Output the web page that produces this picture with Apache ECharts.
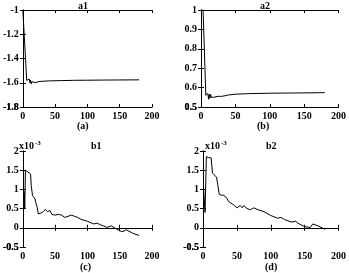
<!DOCTYPE html>
<html>
<head>
<meta charset="utf-8">
<script src="https://cdn.jsdelivr.net/npm/echarts@6/dist/echarts.min.js"></script>
<style>
  html, body { margin: 0; padding: 0; background: #fff; }
  #main { width: 349px; height: 273px; }
</style>
</head>
<body>
<div id="main"></div>
<script>
// curve data
var a1X = [0, 2, 3, 6, 8, 10, 11, 12, 13, 14, 15, 17, 19, 21, 25, 30, 40, 60, 80, 100, 120, 150, 180];
var a1Y = [-1, -1, -1, -1.58, -1.59, -1.57, -1.6, -1.58, -1.61, -1.59, -1.6, -1.59, -1.6, -1.592, -1.59, -1.588, -1.585, -1.582, -1.58, -1.579, -1.578, -1.577, -1.576];

var a2X = [0, 3, 4, 7, 9, 10, 11, 12, 13, 14, 15, 16, 18, 20, 25, 30, 35, 40, 50, 70, 100, 130, 160, 180];
var a2Y = [1, 1, 0.99, 0.56, 0.55, 0.57, 0.54, 0.565, 0.545, 0.565, 0.55, 0.555, 0.55, 0.556, 0.555, 0.555, 0.558, 0.562, 0.566, 0.569, 0.571, 0.572, 0.573, 0.574];

// b1, b2 in units of 1e-3
var b1X = [1, 2, 3, 4, 6, 8, 10, 12, 13, 15, 17, 19, 20, 22, 24, 27, 30, 32, 35, 38, 42, 45, 50, 55, 58, 60, 65, 70, 75, 80, 85, 90, 100, 110, 112, 115, 120, 125, 130, 137, 140, 150, 155, 160, 162, 170, 180];
var b1Y = [0.4, 0.95, 0.5, 1.5, 1.5, 1.45, 1.5, 1.4, 1.1, 0.84, 0.85, 0.75, 0.66, 0.55, 0.36, 0.38, 0.4, 0.45, 0.48, 0.42, 0.45, 0.35, 0.33, 0.35, 0.38, 0.33, 0.27, 0.3, 0.33, 0.3, 0.27, 0.22, 0.17, 0.1, 0.15, 0.12, 0.08, 0.05, 0.01, 0.05, 0.0, -0.08, -0.1, -0.05, -0.1, -0.14, -0.2];

var b2X = [1, 3, 5, 8, 12, 13, 14, 16, 20, 22, 24, 27, 30, 32, 35, 38, 40, 45, 50, 55, 58, 60, 65, 70, 75, 80, 90, 100, 110, 112, 115, 120, 130, 137, 140, 150, 155, 158, 162, 170, 180];
var b2Y = [1.0, 0.4, 1.85, 1.83, 1.82, 1.8, 1.42, 1.38, 1.32, 1.1, 0.87, 0.85, 0.85, 0.8, 0.78, 0.68, 0.63, 0.6, 0.52, 0.58, 0.52, 0.58, 0.5, 0.47, 0.52, 0.48, 0.42, 0.32, 0.25, 0.3, 0.27, 0.22, 0.15, 0.17, 0.12, 0.03, 0.02, 0.0, 0.1, 0.05, -0.04];

var titles = ['a1', 'a2', 'b1', 'b2'];
var captions = ['(a)', '(b)', '(c)', '(d)'];

function pairs(xs, ys) {
  return xs.map(function (x, i) { return [x, ys[i]]; });
}

var font = 'Liberation Serif';
var panels = [
  { left: 17, top: 10, width: 135, height: 97 },
  { left: 201, top: 10, width: 138, height: 97 },
  { left: 17, top: 151, width: 135, height: 96 },
  { left: 203, top: 151, width: 137, height: 96 }
];
// same rects twice: the second set only carries the bottom y label,
// so echarts does not drop it for touching the x "0" label
var grids = panels.concat(panels);
var yRanges = [[-1.8, -1, 0.2], [0.5, 1, 0.1], [-0.5, 2, 0.5], [-0.5, 2, 0.5]];
var curves = [pairs(a1X, a1Y), pairs(a2X, a2Y), pairs(b1X, b1Y), pairs(b2X, b2Y)];

function fmt(v) { return String(Math.round(v * 10) / 10); }

var xAxes = [], yAxes = [], series = [];
var line = { lineStyle: { color: '#000', width: 1 } };
var tick = { inside: true, length: 3, lineStyle: { color: '#000' } };
var lbl = { color: '#000', fontFamily: font, fontSize: 10, fontWeight: 'bold',
  formatter: fmt, showMinLabel: true, showMaxLabel: true, hideOverlap: false };

panels.forEach(function (g, i) {
  var ymin = yRanges[i][0], ymax = yRanges[i][1], step = yRanges[i][2];
  // bottom / left with labels, top / right only ticks
  xAxes.push({
    type: 'value', gridIndex: i, min: 0, max: 200, interval: 50, position: 'bottom',
    axisLine: line, splitLine: { show: false }, axisTick: tick,
    axisLabel: Object.assign({}, lbl, { margin: 4 })
  });
  xAxes.push({
    type: 'value', gridIndex: i, min: 0, max: 200, interval: 50, position: 'top',
    axisLine: line, splitLine: { show: false }, axisTick: tick,
    axisLabel: { show: false }
  });
  yAxes.push({
    type: 'value', gridIndex: i, min: ymin, max: ymax, interval: step, position: 'left',
    axisLine: line, splitLine: { show: false }, axisTick: tick,
    axisLabel: Object.assign({}, lbl, { margin: 4 })
  });
  yAxes.push({
    type: 'value', gridIndex: i, min: ymin, max: ymax, interval: step, position: 'right',
    axisLine: line, splitLine: { show: false }, axisTick: tick,
    axisLabel: { show: false }
  });
  series.push({
    type: 'line', xAxisIndex: i * 2, yAxisIndex: i * 2, data: curves[i],
    showSymbol: false, animation: false,
    lineStyle: { color: '#000', width: 1 }
  });
});

panels.forEach(function (g, i) {
  var ymin = yRanges[i][0], ymax = yRanges[i][1], step = yRanges[i][2];
  xAxes.push({
    type: 'value', gridIndex: 4 + i, min: 0, max: 200, interval: 50, show: false
  });
  yAxes.push({
    type: 'value', gridIndex: 4 + i, min: ymin, max: ymax, interval: step, position: 'left',
    axisLine: { show: false }, splitLine: { show: false }, axisTick: { show: false },
    axisLabel: Object.assign({}, lbl, { margin: 4,
      formatter: function (v) { return Math.abs(v - ymin) < 1e-9 ? fmt(v) : ''; } })
  });
});

var titleX = [84, 266, 97, 272];
var titleY = [1, 1, 141, 141];
var capX = [84, 264, 87, 272];
var capY = [121, 121, 262, 262];

var graphics = [];
titles.forEach(function (t, i) {
  graphics.push({ type: 'text', left: titleX[i] - 6, top: titleY[i],
    style: { text: t, fill: '#000', font: 'bold 10px "' + font + '"' } });
  graphics.push({ type: 'text', left: capX[i] - 7, top: capY[i],
    style: { text: captions[i], fill: '#000', font: 'bold 10px "' + font + '"' } });
});
// x10^-3 exponent labels
[[19, 141], [205, 141]].forEach(function (p) {
  graphics.push({ type: 'text', left: p[0], top: p[1],
    style: { text: 'x10', fill: '#000', font: 'bold 10px "' + font + '"' } });
  graphics.push({ type: 'text', left: p[0] + 16, top: p[1] - 1,
    style: { text: '-3', fill: '#000', font: 'bold 7px "' + font + '"' } });
});

var myChart = echarts.init(document.getElementById('main'));
myChart.setOption({
  animation: false,
  backgroundColor: '#fff',
  grid: grids,
  xAxis: xAxes,
  yAxis: yAxes,
  series: series,
  graphic: graphics
});
</script>
</body>
</html>
